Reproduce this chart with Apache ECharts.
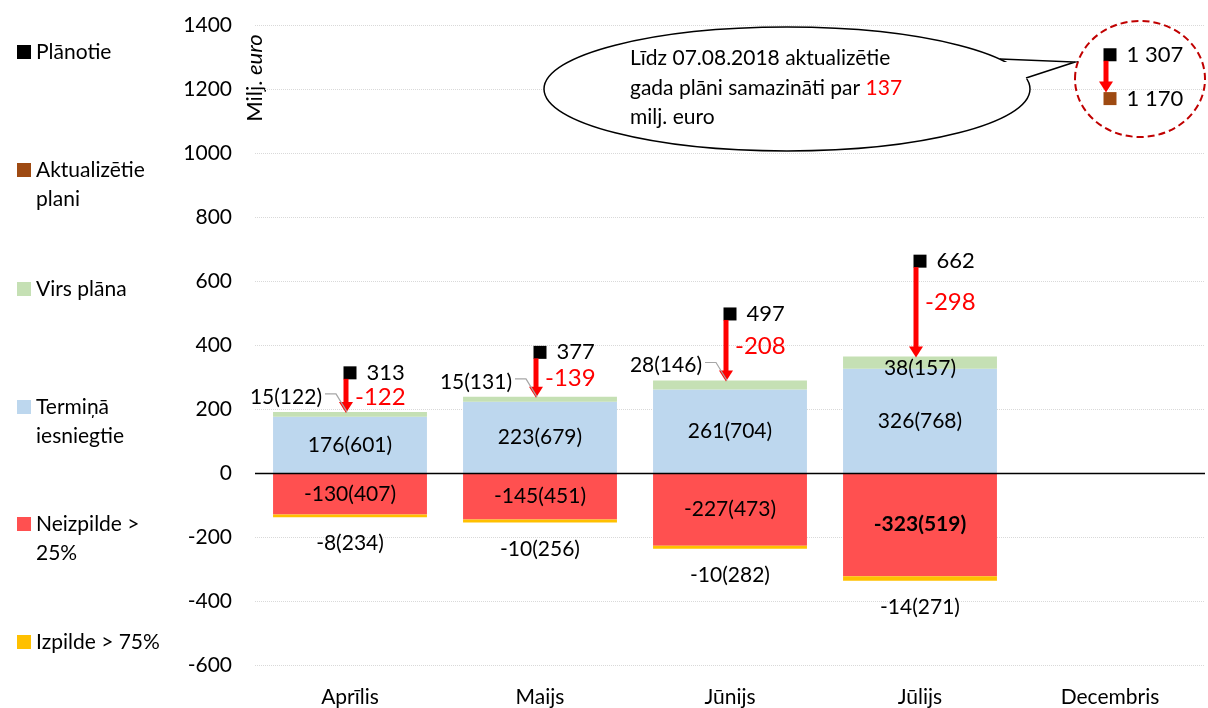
<!DOCTYPE html>
<html>
<head>
    <meta charset="utf-8">
    <title>ECharts</title>
    <script src="https://cdn.jsdelivr.net/npm/echarts@6/dist/echarts.min.js"></script>
    <style>body{margin:0;}</style>
</head>
<body>
    <div id="main" style="width: 1208px;height:708px;"></div>
    <script type="text/javascript">
// dati
var months = ['Aprīlis', 'Maijs', 'Jūnijs', 'Jūlijs', 'Decembris'];
var termina = [176, 223, 261, 326];
var terminaSk = [601, 679, 704, 768];
var virs = [15, 15, 28, 38];
var virsSk = [122, 131, 146, 157];
var neizpilde = [-130, -145, -227, -323];
var neizpildeSk = [407, 451, 473, 519];
var izpilde = [-8, -10, -10, -14];
var izpildeSk = [234, 256, 282, 271];
var planotie = [313, 377, 497, 662, 1307];
var aktualizetie = [null, null, null, null, 1170];
var yMin = -600, yMax = 1400, yStep = 200;

var FONT = 'Lato';
var myChart = echarts.init(document.getElementById('main'));

function thousands(v) {
    return String(v).replace(/\B(?=(\d{3})+(?!\d))/g, ' ');
}

// bultas: no plānotā līdz faktiskajam
var arrowData = [];
for (var i = 0; i < termina.length; i++) {
    arrowData.push([i, planotie[i], termina[i] + virs[i]]);
}
arrowData.push([4, planotie[4], aktualizetie[4]]);

var virsLabels = [];
for (var i = 0; i < virs.length; i++) {
    virsLabels.push([i, termina[i] + virs[i], virs[i], virsSk[i]]);
}

// divrindu nosaukumiem pirmā tukšā rinda, lai ikona stāv pie pirmās rindas
var legendTop = [
    { name: 'Plānotie', top: 37.5 },
    { name: 'Aktualizētie plani', top: 126.5, text: ' \nAktualizētie\nplani' },
    { name: 'Virs plāna', top: 274.5 },
    { name: 'Termiņā iesniegtie', top: 363.5, text: ' \nTermiņā\niesniegtie' },
    { name: 'Neizpilde > 25%', top: 480.5, text: ' \nNeizpilde >\n25%' },
    { name: 'Izpilde > 75%', top: 627.5 }
];
var legends = legendTop.map(function (l) {
    return {
        data: [l.name],
        left: 17,
        top: l.top,
        padding: 0,
        icon: 'rect',
        itemWidth: 14,
        itemHeight: 14,
        formatter: function () { return l.text || l.name; },
        textStyle: { fontSize: 21, fontFamily: FONT, color: '#000', lineHeight: 29 }
    };
});

option = {
    animation: false,
    textStyle: { fontFamily: FONT },
    legend: legends,
    grid: { left: 255, right: 3, top: 25, bottom: 43 },
    xAxis: {
        type: 'category',
        data: months,
        axisLine: { show: false, onZero: false },
        axisTick: { show: false },
        axisLabel: { margin: 22, fontSize: 21, color: '#000', fontFamily: FONT }
    },
    yAxis: {
        type: 'value',
        min: yMin,
        max: yMax,
        interval: yStep,
        axisLine: { show: false },
        axisTick: { show: false },
        axisLabel: { margin: 23, fontSize: 21, color: '#000', fontFamily: FONT,
                     formatter: function (v) { return String(v); } },
        splitLine: { lineStyle: { color: '#D9D9D9', type: 'dotted', width: 1 } }
    },
    series: [
        {
            name: 'Termiņā iesniegtie',
            type: 'bar',
            stack: 'a',
            barWidth: '81%',
            data: termina,
            itemStyle: { color: '#BDD7EE' },
            label: {
                show: true, position: 'inside', fontSize: 21, fontFamily: FONT, color: '#000',
                formatter: function (p) { return p.value + '(' + terminaSk[p.dataIndex] + ')'; }
            },
            markLine: {
                silent: true,
                symbol: ['none', 'none'],
                label: { show: false },
                lineStyle: { color: '#000', width: 1.3, type: 'solid' },
                data: [{ yAxis: 0 }],
                z: 10
            }
        },
        {
            name: 'Virs plāna',
            type: 'bar',
            stack: 'a',
            data: virs,
            itemStyle: { color: '#C5E0B4' }
        },
        {
            name: 'Neizpilde > 25%',
            type: 'bar',
            stack: 'a',
            data: neizpilde,
            itemStyle: { color: '#FF5050' },
            label: {
                show: true, position: 'inside', fontSize: 21, fontFamily: FONT, color: '#000',
                formatter: function (p) {
                    var t = p.value + '(' + neizpildeSk[p.dataIndex] + ')';
                    return p.value === Math.min.apply(null, neizpilde) ? '{b|' + t + '}' : t;
                },
                rich: { b: { fontSize: 21, fontFamily: FONT, fontWeight: 'bold', color: '#000' } }
            }
        },
        {
            name: 'Izpilde > 75%',
            type: 'bar',
            stack: 'a',
            data: izpilde,
            itemStyle: { color: '#FFC000' },
            label: {
                show: true, position: 'bottom', distance: 16, fontSize: 21, fontFamily: FONT, color: '#000',
                formatter: function (p) { return p.value + '(' + izpildeSk[p.dataIndex] + ')'; }
            }
        },
        {
            name: 'Plānotie',
            type: 'scatter',
            symbol: 'rect',
            symbolSize: 13,
            data: planotie,
            itemStyle: { color: '#000', opacity: 1 },
            z: 5,
            label: {
                show: true, position: 'right', distance: 10, fontSize: 22, fontFamily: FONT, color: '#000',
                formatter: function (p) { return thousands(p.value); }
            }
        },
        {
            name: 'Aktualizētie plani',
            type: 'scatter',
            symbol: 'rect',
            symbolSize: 13,
            data: aktualizetie,
            itemStyle: { color: '#9E4A12', opacity: 1 },
            z: 5,
            label: {
                show: true, position: 'right', distance: 10, fontSize: 22, fontFamily: FONT, color: '#000',
                formatter: function (p) { return thousands(p.value); }
            }
        },
        {
            // sarkanās bultas
            type: 'custom',
            z: 6,
            encode: { x: 0, y: [1, 2] },
            data: arrowData,
            renderItem: function (params, api) {
                var idx = api.value(0);
                var p0 = api.coord([idx, api.value(1)]);
                var p1 = api.coord([idx, api.value(2)]);
                var toBar = idx < termina.length;
                var ax = p0[0] - 4;
                var y0 = p0[1] + 6;
                var tip = toBar ? p1[1] + 1 : p1[1] - 6;
                var children = [
                    { type: 'line', shape: { x1: ax, y1: y0, x2: ax, y2: tip - 9 },
                      style: { stroke: '#FF0000', lineWidth: 5 } },
                    { type: 'polygon', shape: { points: [[ax - 7, tip - 11], [ax + 7, tip - 11], [ax, tip]] },
                      style: { fill: '#FF0000' } }
                ];
                if (toBar) {
                    children.push({
                        type: 'text',
                        x: ax + 9,
                        y: p0[1] + 0.3 * (tip - p0[1]) + 12,
                        style: {
                            text: String(api.value(2) - api.value(1)),
                            fill: '#FF0000', fontSize: 24, fontFamily: FONT,
                            align: 'left', verticalAlign: 'middle'
                        }
                    });
                }
                return { type: 'group', children: children };
            }
        },
        {
            // "Virs plāna" uzraksti
            type: 'custom',
            z: 6,
            encode: { x: 0, y: 1 },
            data: virsLabels,
            renderItem: function (params, api) {
                var p = api.coord([api.value(0), api.value(1)]);
                var h = api.size([0, api.value(2)])[1];
                var txt = api.value(2) + '(' + api.value(3) + ')';
                if (h >= 11) {
                    return { type: 'text', x: p[0], y: p[1] + 12,
                        style: { text: txt, fill: '#000', fontSize: 21, fontFamily: FONT, align: 'center', verticalAlign: 'middle' } };
                }
                return {
                    type: 'group',
                    children: [
                        { type: 'text', x: p[0] - 28, y: p[1] - 15,
                          style: { text: txt, fill: '#000', fontSize: 21, fontFamily: FONT, align: 'right', verticalAlign: 'middle' } },
                        { type: 'polyline', shape: { points: [[p[0] - 25, p[1] - 18], [p[0] - 14, p[1] - 18], [p[0] - 3, p[1]]] },
                          style: { stroke: '#A6A6A6', lineWidth: 1.2, fill: null } }
                    ]
                };
            }
        }
    ],
    graphic: [
        {
            type: 'text', x: 255, y: 78, rotation: Math.PI / 2,
            style: {
                text: '{a|Milj. }{b|euro}', align: 'center', verticalAlign: 'middle',
                rich: {
                    a: { fontSize: 22, fontFamily: FONT, fill: '#000' },
                    b: { fontSize: 22, fontFamily: FONT, fill: '#000', fontStyle: 'italic' }
                }
            }
        },
        { type: 'ellipse', z: 100, shape: { cx: 787, cy: 89, rx: 243, ry: 62 },
          style: { fill: '#fff', stroke: '#000', lineWidth: 1.5 } },
        { type: 'polygon', z: 101, shape: { points: [[999, 62], [1075, 62], [1024, 80]] },
          style: { fill: '#fff' } },
        { type: 'polyline', z: 102, shape: { points: [[1000, 59], [1075, 62], [1026, 78]] },
          style: { stroke: '#000', lineWidth: 1.5, fill: null } },
        {
            type: 'text', z: 103, x: 630, y: 88,
            style: {
                text: 'Līdz 07.08.2018 aktualizētie\ngada plāni samazināti par {r|' + (planotie[4] - aktualizetie[4]) + '}\nmilj. euro',
                fontSize: 21, fontFamily: FONT, fill: '#000', lineHeight: 29.5,
                align: 'left', verticalAlign: 'middle',
                rich: { r: { fontSize: 21, fontFamily: FONT, fill: '#FF0000', lineHeight: 29.5 } }
            }
        },
        { type: 'ellipse', z: 100, shape: { cx: 1140, cy: 79, rx: 65, ry: 58 },
          style: { fill: null, stroke: '#C00000', lineWidth: 2, lineDash: [7, 4] } }
    ]
};

myChart.setOption(option);
    </script>
</body>
</html>
